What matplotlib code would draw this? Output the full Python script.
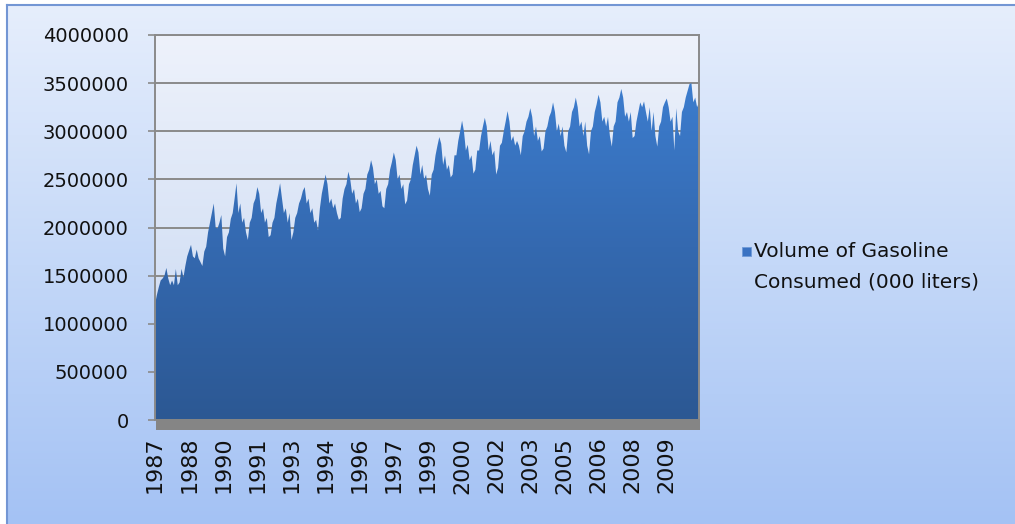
import numpy as np
import matplotlib
matplotlib.use("Agg")
import matplotlib.pyplot as plt
from matplotlib.colors import LinearSegmentedColormap
from matplotlib.patches import Rectangle

# monthly gasoline volume, Jan 1987 .. Dec 2010, in thousands
start_year = 1987
volume_k = [
    1200, 1300, 1380, 1450, 1470, 1500, 1580, 1470, 1400, 1450, 1400, 1570,  # 1987
    1400, 1430, 1570, 1480, 1600, 1700, 1760, 1820, 1700, 1680, 1770, 1680,  # 1988
    1640, 1600, 1750, 1800, 1950, 2050, 2150, 2250, 2000, 1990, 2050, 2130,  # 1989
    1780, 1700, 1900, 1950, 2090, 2150, 2300, 2460, 2150, 2250, 2050, 2100,  # 1990
    1950, 1870, 2050, 2100, 2250, 2300, 2420, 2350, 2150, 2200, 2050, 2100,  # 1991
    1900, 1920, 2050, 2100, 2250, 2350, 2460, 2300, 2150, 2200, 2050, 2150,  # 1992
    1870, 1950, 2100, 2150, 2250, 2300, 2380, 2420, 2250, 2300, 2150, 2200,  # 1993
    2050, 2080, 1970, 2200, 2350, 2450, 2550, 2450, 2250, 2300, 2200, 2250,  # 1994
    2150, 2080, 2100, 2300, 2400, 2450, 2580, 2500, 2350, 2400, 2250, 2300,  # 1995
    2160, 2200, 2350, 2400, 2550, 2600, 2700, 2620, 2450, 2500, 2350, 2380,  # 1996
    2220, 2200, 2400, 2450, 2600, 2680, 2780, 2700, 2500, 2550, 2400, 2450,  # 1997
    2240, 2280, 2450, 2500, 2650, 2750, 2850, 2780, 2550, 2650, 2500, 2550,  # 1998
    2400, 2330, 2550, 2600, 2750, 2850, 2940, 2870, 2650, 2750, 2600, 2650,  # 1999
    2520, 2550, 2750, 2750, 2900, 3000, 3110, 3000, 2800, 2860, 2700, 2750,  # 2000
    2560, 2600, 2800, 2800, 2950, 3050, 3140, 3050, 2800, 2900, 2750, 2800,  # 2001
    2550, 2620, 2850, 2880, 3000, 3100, 3210, 3100, 2900, 2950, 2850, 2900,  # 2002
    2850, 2750, 2950, 3000, 3100, 3150, 3240, 3150, 2950, 3050, 2900, 2950,  # 2003
    2790, 2820, 3000, 3050, 3150, 3200, 3300, 3200, 3000, 3080, 2950, 3050,  # 2004
    2850, 2780, 3000, 3050, 3200, 3250, 3350, 3250, 3050, 3100, 2950, 3100,  # 2005
    2850, 2760, 3000, 3050, 3200, 3280, 3380, 3300, 3100, 3150, 3050, 3150,  # 2006
    2950, 2840, 3050, 3100, 3300, 3350, 3440, 3350, 3150, 3200, 3100, 3200,  # 2007
    2930, 2950, 3100, 3200, 3300, 3250, 3310, 3200, 3100, 3250, 3000, 3200,  # 2008
    2950, 2840, 3050, 3100, 3250, 3300, 3340, 3250, 3100, 3150, 2800, 3240,  # 2009
    3000, 2950, 3200, 3250, 3350, 3420, 3490, 3500, 3300, 3350, 3250, 3300,  # 2010
]
label_step = 18
y_ticks = [0, 500000, 1000000, 1500000, 2000000, 2500000, 3000000, 3500000, 4000000]
series_name = "Volume of Gasoline\nConsumed (000 liters)"

volume = np.array(volume_k) * 1000
x = np.arange(len(volume))
tick_pos = x[::label_step]
tick_labels = [str(start_year + i // 12) for i in tick_pos]

W, H = 1015, 524
fig = plt.figure(figsize=(W / 100, H / 100), dpi=100)
fig.patch.set_facecolor("white")

# chart background (light blue gradient) with border on left/top
bg = fig.add_axes([7 / W, 0, 1, 1 - 5 / H], zorder=-10)
bg_cmap = LinearSegmentedColormap.from_list("bg", ["#a4c2f4", "#c4d8f8", "#e6eefc"])
bg.imshow(np.linspace(0, 1, 256).reshape(-1, 1), aspect="auto", cmap=bg_cmap,
          origin="lower", extent=[0, 1, 0, 1])
bg.set_xlim(0, 1)
bg.set_ylim(0, 1)
bg.set_xticks([])
bg.set_yticks([])
for s in ["right", "bottom"]:
    bg.spines[s].set_visible(False)
for s in ["left", "top"]:
    bg.spines[s].set_color("#7396d4")
    bg.spines[s].set_linewidth(1.5)

left, right, top, bottom = 155, 699, 35, 420
ax = fig.add_axes([left / W, 1 - bottom / H, (right - left) / W, (bottom - top) / H])
ax.set_xlim(0, len(volume) - 1)
ax.set_ylim(0, 4000000)

# plot area gradient
pa_cmap = LinearSegmentedColormap.from_list("pa", ["#c6d7f2", "#eef2fb"])
ax.imshow(np.linspace(0, 1, 256).reshape(-1, 1), aspect="auto", cmap=pa_cmap,
          origin="lower", extent=[0, len(volume) - 1, 0, 4000000], zorder=0)

ax.set_axisbelow(True)
ax.yaxis.grid(True, color="#8a8a8a", linewidth=1.4)
ax.set_yticks(y_ticks)
ax.set_yticklabels([str(v) for v in y_ticks])

# area with vertical gradient
poly = ax.fill_between(x, 0, volume, facecolor="none", edgecolor="none", zorder=2)
area_cmap = LinearSegmentedColormap.from_list("area", ["#2c5893", "#3469b0", "#3d7ed0"])
im = ax.imshow(np.linspace(0, 1, 256).reshape(-1, 1), aspect="auto", cmap=area_cmap,
               origin="lower", extent=[0, len(volume) - 1, 0, 3600000], zorder=2)
im.set_clip_path(poly.get_paths()[0], transform=ax.transData)
ax.set_ylim(0, 4000000)

ax.set_xticks(tick_pos)
ax.set_xticklabels(tick_labels, rotation=90, fontsize=16, color="#111111")
ax.tick_params(axis="x", length=0, pad=12)
ax.tick_params(axis="y", length=5, width=1.2, color="#8a8a8a", pad=14,
               labelsize=14, labelcolor="#111111")

ax.spines["bottom"].set_visible(False)
for s in ["left", "top", "right"]:
    ax.spines[s].set_color("#8a8a8a")
    ax.spines[s].set_linewidth(1.4)

# grey floor strip under the area
fig.add_artist(Rectangle((156 / W, 1 - 430 / H), (700 - 156) / W, 11 / H,
                         transform=fig.transFigure, facecolor="#858585",
                         edgecolor="none", zorder=3))

# legend
fig.add_artist(Rectangle((742 / W, 1 - 256 / H), 9 / W, 9 / H,
                         transform=fig.transFigure, facecolor="#3a72c2",
                         edgecolor="#6f9ad8", linewidth=0.6))
fig.text(754 / W, 1 - 242 / H, series_name, fontsize=14.5, color="#111111",
         va="top", ha="left", linespacing=1.75)

fig.savefig("out.png", dpi=100)
